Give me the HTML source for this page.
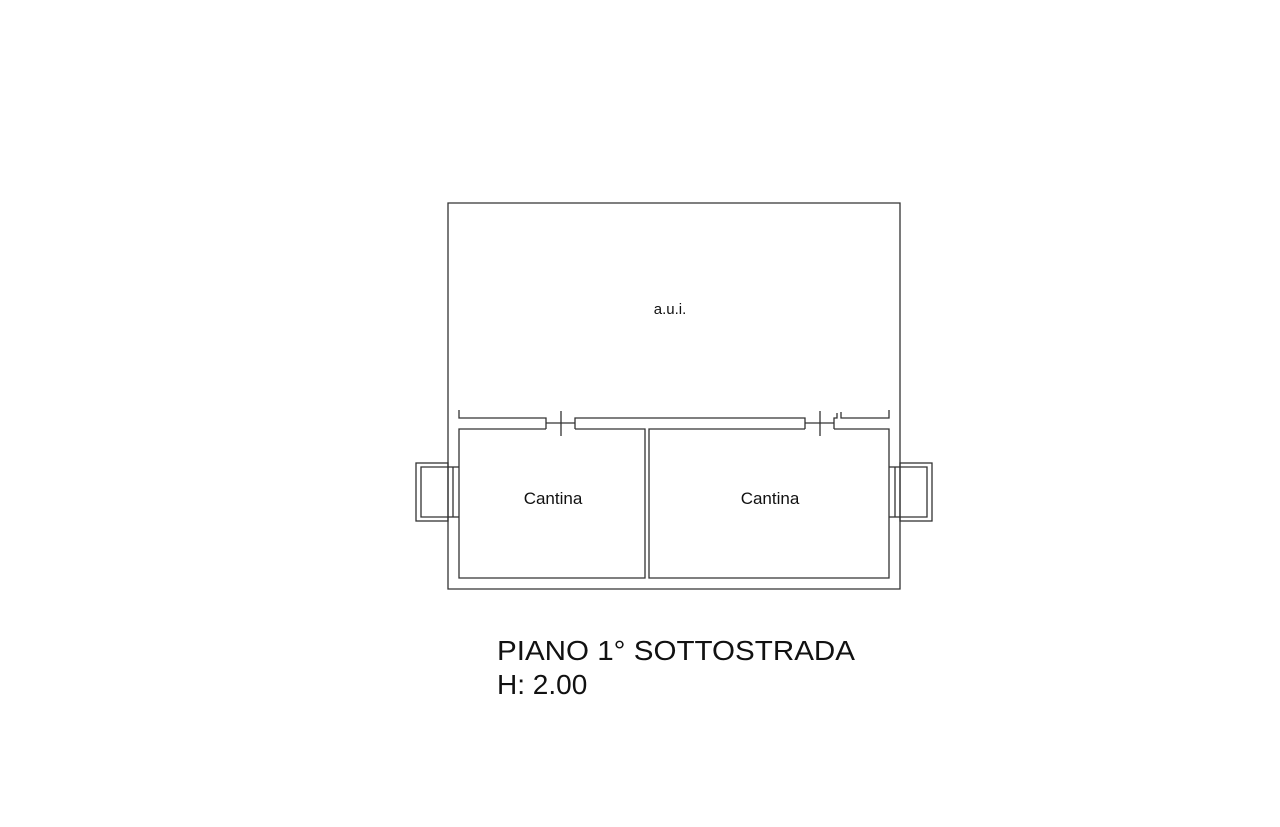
<!DOCTYPE html>
<html><head><meta charset="utf-8"><style>html,body{margin:0;padding:0;background:#fff}svg{display:block}</style></head>
<body>
<svg width="1280" height="827" viewBox="0 0 1280 827" xmlns="http://www.w3.org/2000/svg">
<g fill="none" stroke="#333" stroke-width="1.3">
<!-- outer walls -->
<polyline points="448,463 448,203 900,203 900,463"/>
<polyline points="448,521 448,589 900,589 900,521"/>
<line x1="448" y1="463" x2="448" y2="521"/>
<line x1="900" y1="463" x2="900" y2="521"/>
<!-- left window -->
<rect x="416" y="463" width="32" height="58"/>
<polyline points="448,467 421,467 421,517 448,517"/>
<line x1="453" y1="467" x2="453" y2="517"/>
<line x1="448" y1="467" x2="459" y2="467"/>
<line x1="448" y1="517" x2="459" y2="517"/>
<!-- right window -->
<rect x="900" y="463" width="32" height="58"/>
<polyline points="900,467 927,467 927,517 900,517"/>
<line x1="895" y1="467" x2="895" y2="517"/>
<line x1="889" y1="467" x2="900" y2="467"/>
<line x1="889" y1="517" x2="900" y2="517"/>
<!-- left cantina -->
<polyline points="546,429 459,429 459,578 645,578 645,429 575,429"/>
<!-- right cantina -->
<polyline points="805,429 649,429 649,578 889,578 889,429 834,429"/>
<!-- partition top -->
<polyline points="459,410 459,418 546,418 546,429"/>
<polyline points="575,429 575,418 805,418 805,429"/>
<line x1="546" y1="423" x2="575" y2="423"/>
<line x1="561" y1="411" x2="561" y2="436"/>
<line x1="805" y1="423" x2="834" y2="423"/>
<line x1="820" y1="411" x2="820" y2="436"/>
<polyline points="834,429 834,418 837,418 837,413"/>
<polyline points="841,412 841,418 889,418 889,410"/>
</g>
<g font-family="Liberation Sans, Arial, sans-serif" fill="#111">
<text x="670" y="314" font-size="15" text-anchor="middle">a.u.i.</text>
<text x="553" y="504" font-size="17" text-anchor="middle">Cantina</text>
<text x="770" y="504" font-size="17" text-anchor="middle">Cantina</text>
<text x="497" y="660" font-size="28" textLength="358" lengthAdjust="spacingAndGlyphs">PIANO 1° SOTTOSTRADA</text>
<text x="497" y="694" font-size="28">H: 2.00</text>
</g>
</svg>
</body></html>
